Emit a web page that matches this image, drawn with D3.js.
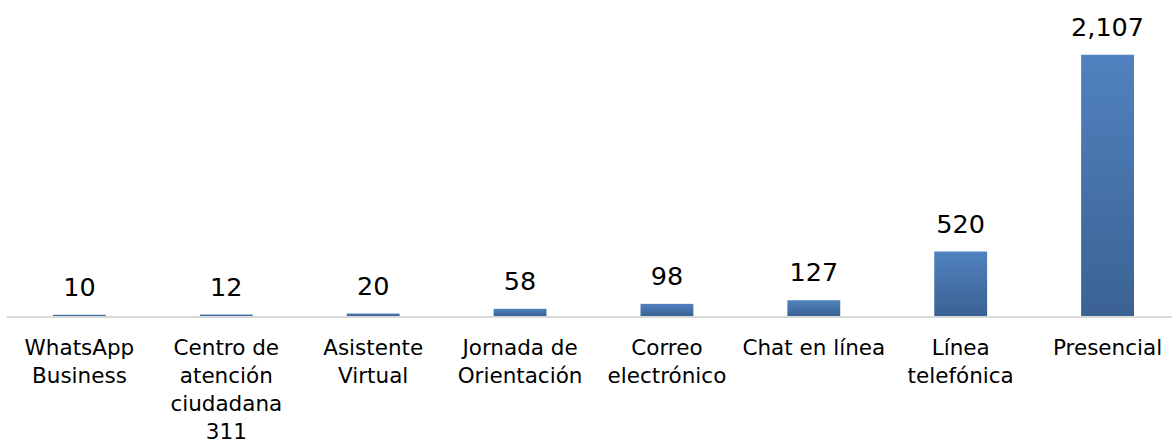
<!DOCTYPE html>
<html>
<head>
<meta charset="utf-8">
<script src="https://cdn.jsdelivr.net/npm/d3@7"></script>
<style>
  html, body { margin: 0; padding: 0; background: #ffffff; }
  svg { display: block; }
</style>
</head>
<body>
<svg id="chart" width="1173" height="443"></svg>
<script>
const categories = [
  "WhatsApp\nBusiness",
  "Centro de\natención\nciudadana\n311",
  "Asistente\nVirtual",
  "Jornada de\nOrientación",
  "Correo\nelectrónico",
  "Chat en línea",
  "Línea\ntelefónica",
  "Presencial"
];
const values = [10, 12, 20, 58, 98, 127, 520, 2107];
const yDomain = [0, 2500];

const svg = d3.select("#chart");
const W = 1173, H = 443;
const baseY = 316;

const x = d3.scaleBand()
  .domain(categories)
  .range([6, 1181])
  .paddingInner(0.64)
  .paddingOuter(0.32);

const y = d3.scaleLinear().domain(yDomain).range([baseY, 6]);

const defs = svg.append("defs");
const grad = defs.append("linearGradient")
  .attr("id", "barGrad")
  .attr("x1", 0).attr("y1", 0).attr("x2", 0).attr("y2", 1);
grad.append("stop").attr("offset", "0%").attr("stop-color", "#5082bf");
grad.append("stop").attr("offset", "100%").attr("stop-color", "#3b6293");

const fmt = d3.format(",");
const data = categories.map((c, i) => ({ c, v: values[i] }));

// bars
svg.append("g").selectAll("rect")
  .data(data)
  .join("rect")
  .attr("x", d => x(d.c))
  .attr("width", x.bandwidth())
  .attr("y", d => y(d.v))
  .attr("height", d => baseY - y(d.v))
  .attr("fill", "url(#barGrad)");

// axis line
svg.append("line")
  .attr("x1", 7).attr("x2", 1172)
  .attr("y1", baseY + 1).attr("y2", baseY + 1)
  .attr("stroke", "#d9d9d9")
  .attr("stroke-width", 2);

// value labels
svg.append("g").selectAll("text")
  .data(data)
  .join("text")
  .attr("x", d => x(d.c) + x.bandwidth() / 2)
  .attr("y", d => y(d.v) - 19)
  .attr("text-anchor", "middle")
  .attr("font-family", "'DejaVu Sans', sans-serif")
  .attr("font-size", 25.5)
  .attr("fill", "#000")
  .text(d => fmt(d.v));

// category labels
const catG = svg.append("g");
data.forEach(d => {
  const t = catG.append("text")
    .attr("x", x(d.c) + x.bandwidth() / 2)
    .attr("y", 355)
    .attr("text-anchor", "middle")
    .attr("font-family", "'DejaVu Sans', sans-serif")
    .attr("font-size", 21.5)
    .attr("fill", "#000");
  d.c.split("\n").forEach((line, i) => {
    t.append("tspan")
      .attr("x", x(d.c) + x.bandwidth() / 2)
      .attr("dy", i === 0 ? 0 : 28)
      .text(line);
  });
});
</script>
</body>
</html>
